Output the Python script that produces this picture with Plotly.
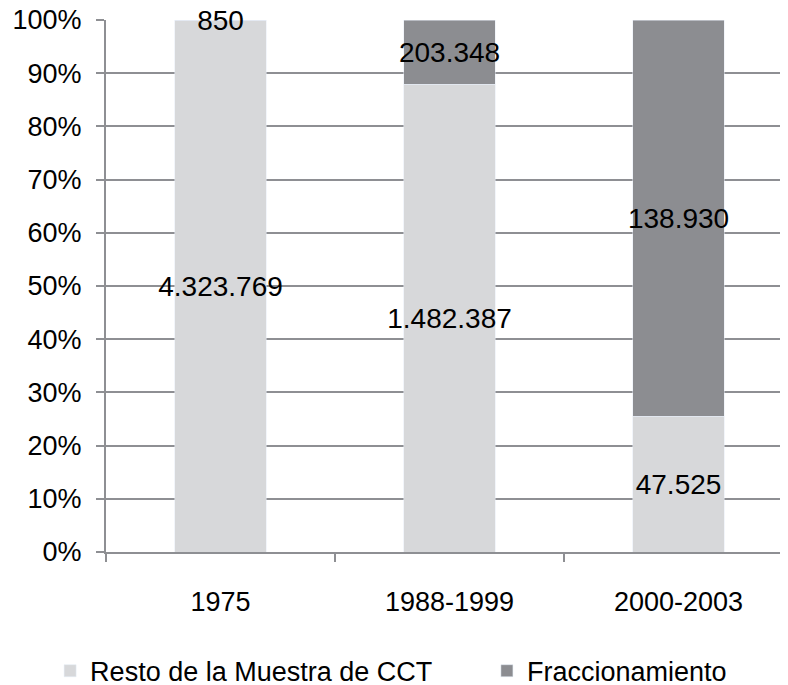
import plotly.graph_objects as go

# Datos
categorias = ["1975", "1988-1999", "2000-2003"]
resto = [4323769, 1482387, 47525]
fraccionamiento = [850, 203348, 138930]
etiquetas_resto = ["4.323.769", "1.482.387", "47.525"]
etiquetas_fracc = ["850", "203.348", "138.930"]

GRIS_CLARO = "#D7D8DA"
GRIS_OSCURO = "#8C8D91"
GRIS_EJE = "#8E8F93"
FUENTE = "Liberation Sans, Arial, Helvetica, sans-serif"

fig = go.Figure()
for valores, etiquetas, nombre, color, leyenda in [
    (resto, etiquetas_resto, "Resto de la Muestra de CCT", GRIS_CLARO, "legend"),
    (fraccionamiento, etiquetas_fracc, "Fraccionamiento", GRIS_OSCURO, "legend2"),
]:
    fig.add_trace(go.Bar(
        x=categorias, y=valores,
        name=nombre,
        legend=leyenda,
        showlegend=True,
        marker={"color": color},
        text=etiquetas,
        textposition="inside",
        insidetextanchor="middle",
        textangle=0,
        constraintext="none",
        cliponaxis=False,
        textfont={"size": 28, "color": "black", "family": FUENTE},
        width=0.4,
        hoverinfo="skip",
    ))

leyenda_base = {
    "orientation": "h",
    "xref": "container",
    "xanchor": "left",
    "y": -0.224, "yanchor": "middle",
    "font": {"size": 27},
    "itemwidth": 30,
    "bgcolor": "rgba(0,0,0,0)",
}

# el navegador deja 8px de margen en el body
fig.update_layout(
    barmode="stack",
    barnorm="percent",
    showlegend=True,
    width=780, height=677,
    margin={"l": 98, "r": 0, "t": 12, "b": 133, "autoexpand": False},
    plot_bgcolor="white",
    paper_bgcolor="white",
    font={"family": FUENTE, "size": 27, "color": "black"},
    xaxis={
        "range": [-0.5, 2.478],
        "showgrid": False,
        "showline": True,
        "linecolor": GRIS_EJE,
        "linewidth": 2,
        "ticks": "outside",
        "tickson": "boundaries",
        "ticklen": 8,
        "tickwidth": 2,
        "tickcolor": GRIS_EJE,
        "ticklabelstandoff": 25,
        "tickfont": {"size": 27},
    },
    yaxis={
        "range": [0, 100],
        "dtick": 10,
        "ticksuffix": "%",
        "showgrid": True,
        "gridcolor": GRIS_EJE,
        "gridwidth": 1.5,
        "showline": True,
        "linecolor": GRIS_EJE,
        "linewidth": 2,
        "ticks": "outside",
        "ticklen": 8,
        "tickwidth": 1.5,
        "tickcolor": GRIS_EJE,
        "ticklabelstandoff": 9,
        "ticklabeloverflow": "allow",
        "zeroline": False,
        "tickfont": {"size": 27},
    },
    legend={**leyenda_base, "x": 0.054},
    legend2={**leyenda_base, "x": 0.614},
)

fig.write_html("out.html")
